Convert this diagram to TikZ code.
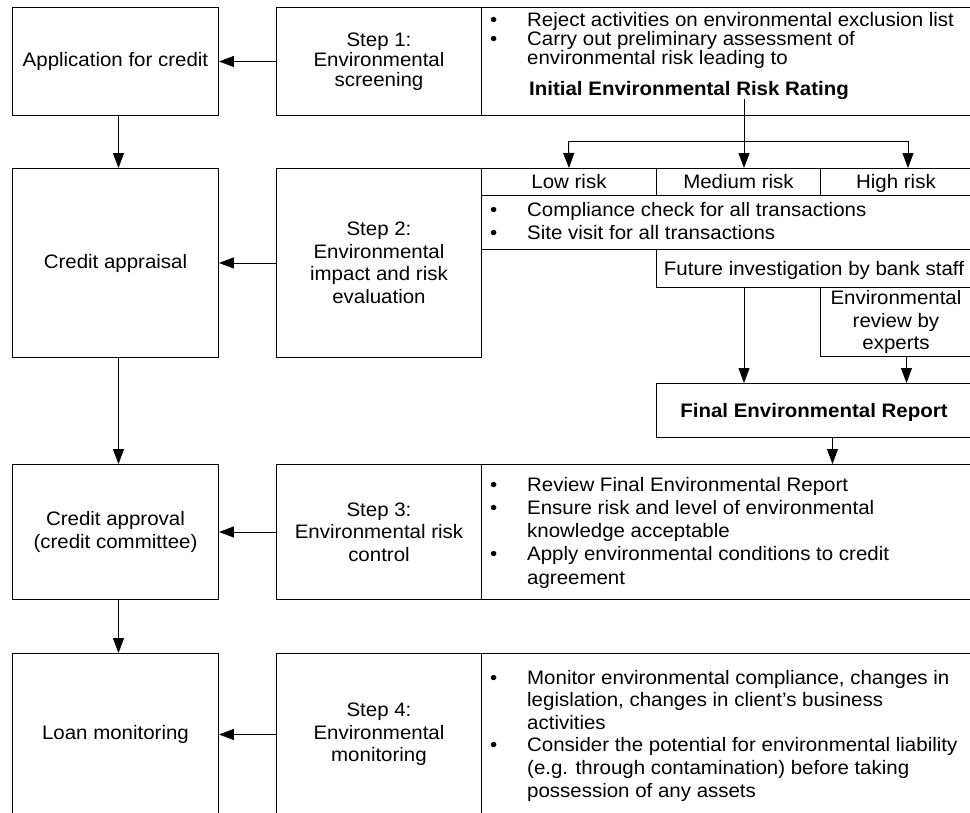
\documentclass[tikz,border=0pt]{standalone}
\usepackage{fontspec}
\setmainfont{Liberation Sans}[FakeStretch=1.05]
\usetikzlibrary{arrows.meta}
% hanging bullet placed to the left of the text column
\newcommand{\bul}{\llap{\makebox[37pt][l]{\textbullet}}}
\newcommand{\fs}[1]{\fontsize{19.5}{#1}\selectfont\lineskiplimit=-20pt}
% invisible strut for single-line labels in the flat boxes
\newcommand{\cstrut}{\rule[-5pt]{0pt}{24pt}}

\begin{document}
\begin{tikzpicture}[x=1pt,y=1pt,
  every node/.style={font=\fs{22.6}},
  box/.style={draw, line width=0.95pt, inner sep=0pt, anchor=north west, align=center},
  arr/.style={line width=0.95pt, -{Triangle[length=15pt,width=11pt]}},
  txt/.style={inner sep=0pt, align=left, anchor=west}]
\clip (0,0) rectangle (970,-812);

% credit process (left column)
\node[box, minimum width=206pt, minimum height=108pt] (app)  at (12,-7)   {Application for credit};
\node[box, minimum width=206pt, minimum height=189pt] (appr) at (12,-168) {Credit appraisal};
\node[box, minimum width=206pt, minimum height=135pt] (appv) at (12,-464) {Credit approval\\(credit committee)};
\node[box, minimum width=206pt, minimum height=162pt] (mon)  at (12,-653) {Loan monitoring};

% environmental steps (middle column)
\node[box, minimum width=205pt, minimum height=108pt, font=\fs{20}] (s1) at (276,-7) {Step 1:\\Environmental\\screening};
\node[box, minimum width=205pt, minimum height=189pt] (s2) at (276,-168) {Step 2:\\Environmental\\impact and risk\\evaluation};
\node[box, minimum width=205pt, minimum height=135pt] (s3) at (276,-464) {Step 3:\\Environmental risk\\control};
\node[box, minimum width=205pt, minimum height=162pt] (s4) at (276,-653) {Step 4:\\Environmental\\monitoring};

% step details (right column)
\node[box, minimum width=490pt, minimum height=108pt] (r1) at (481,-7) {};
\node[txt, font=\fs{19}] (r1t) at (527,-40)
  {\bul Reject activities on environmental exclusion list\\
   \bul Carry out preliminary assessment of\\
   environmental risk leading to};
\node[inner sep=0pt, anchor=base west] (irr) at (529,-95)
  {\textbf{Initial Environmental Risk Rating}};

\node[box, minimum width=175pt, minimum height=27pt] (low)  at (481,-168) {Low risk\cstrut};
\node[box, minimum width=164pt, minimum height=27pt] (med)  at (656,-168) {Medium risk\cstrut};
\node[box, minimum width=151pt, minimum height=27pt] (high) at (820,-168) {High risk\cstrut};

\node[box, minimum width=490pt, minimum height=54pt] (comp) at (481,-195) {};
\node[txt, font=\fs{23}] (compt) at (527,-220.7)
  {\bul Compliance check for all transactions\\
   \bul Site visit for all transactions};

\node[box, minimum width=315pt, minimum height=38pt] (future) at (656,-249) {Future investigation by bank staff\cstrut};
\node[box, minimum width=151pt, minimum height=69pt] (review) at (820,-287) {Environmental\\review by\\experts};
\node[box, minimum width=315pt, minimum height=54pt] (final)  at (656,-383) {\textbf{Final Environmental Report}\cstrut};

\node[box, minimum width=490pt, minimum height=135pt] (r3) at (481,-464) {};
\node[txt, font=\fs{23.25}] (r3t) at (527,-532.7)
  {\bul Review Final Environmental Report\\
   \bul Ensure risk and level of environmental\\
   knowledge acceptable\\
   \bul Apply environmental conditions to credit\\
   agreement};

\node[box, minimum width=490pt, minimum height=170pt] (r4) at (481,-653) {};
\node[txt, font=\fs{22.6}] (r4t) at (527,-735.5)
  {\bul Monitor environmental compliance, changes in\\
   legislation, changes in client’s business\\
   activities\\
   \bul Consider the potential for environmental liability\\
   (e.g. through contamination) before taking\\
   possession of any assets};

% flow of the credit process
\draw[arr] ([xshift=3pt]app.south)  -- ([xshift=3pt]appr.north);
\draw[arr] ([xshift=3pt]appr.south) -- ([xshift=3pt]appv.north);
\draw[arr] ([xshift=3pt]appv.south) -- ([xshift=3pt]mon.north);

% each step feeds its credit stage
\draw[arr] (s1.west) -- (app.east);
\draw[arr] (s2.west) -- (appr.east);
\draw[arr] (s3.west) -- (appv.east);
\draw[arr] (s4.west) -- (mon.east);

% risk rating splits into the three classes
\coordinate (split)  at (744,-141);
\coordinate (splitL) at (568.5,-141);
\coordinate (splitR) at (908,-141);
\draw[line width=0.95pt] (splitL) -- (splitR);
\draw[arr] (irr.south -| split) -- (split |- med.north);
\draw[arr] (splitL) -- (low.north);
\draw[arr] (splitR) -- (splitR |- high.north);

% investigations lead to the final report
\draw[arr] (future.south -| split) -- (final.north -| split);
\draw[arr] ([xshift=10.5pt]review.south) -- ([xshift=10.5pt]review.south |- final.north);
\draw[arr] ([xshift=18.5pt]final.south) -- ([xshift=18.5pt]final.south |- r3.north);
\end{tikzpicture}
\end{document}
